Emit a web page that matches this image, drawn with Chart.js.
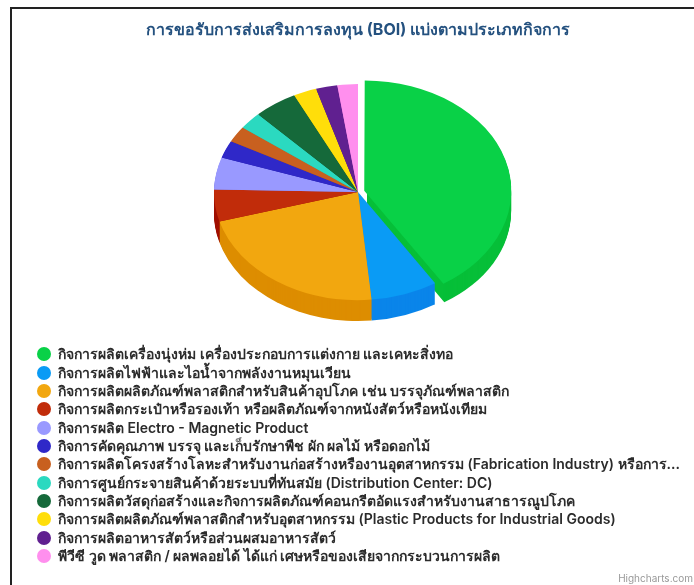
<!DOCTYPE html>
<html>
<head>
<meta charset="utf-8">
<script src="https://cdn.jsdelivr.net/npm/chart.js@4"></script>
<style>
  body { margin: 0; background: #fff; width: 694px; height: 585px; position: relative; overflow: hidden; font-family: Inter, "Noto Sans", sans-serif; }
  #frame { position: absolute; left: 10px; top: 7px; width: 684px; height: 578px; border-left: 2px solid #222; border-top: 2px solid #222; box-sizing: border-box; }
  #wrap { position: absolute; left: 22px; top: 0; width: 672px; height: 585px; }
  #legend { position: absolute; left: 37px; top: 345px; margin: 0; padding: 0; list-style: none; }
  #legend li { height: 18.36px; line-height: 18px; font-size: 14px; font-weight: 600; color: #2b2b2b; white-space: nowrap; display: flex; align-items: center; }
  #legend i { width: 14px; height: 14px; border-radius: 50%; margin-right: 7px; flex: none; }
  #credit { position: absolute; right: 1px; top: 572px; font-size: 10px; color: #999; }
</style>
</head>
<body>
<div id="frame"></div>
<div id="wrap"><canvas id="pie" width="672" height="585"></canvas></div>
<ul id="legend"></ul>
<div id="credit">Highcharts.com</div>
<script>
const TITLE = 'การขอรับการส่งเสริมการลงทุน (BOI) แบ่งตามประเภทกิจการ';
const categories = [
  'กิจการผลิตเครื่องนุ่งห่ม เครื่องประกอบการแต่งกาย และเคหะสิ่งทอ',
  'กิจการผลิตไฟฟ้าและไอน้ำจากพลังงานหมุนเวียน',
  'กิจการผลิตผลิตภัณฑ์พลาสติกสำหรับสินค้าอุปโภค เช่น บรรจุภัณฑ์พลาสติก',
  'กิจการผลิตกระเป๋าหรือรองเท้า หรือผลิตภัณฑ์จากหนังสัตว์หรือหนังเทียม',
  'กิจการผลิต Electro - Magnetic Product',
  'กิจการคัดคุณภาพ บรรจุ และเก็บรักษาพืช ผัก ผลไม้ หรือดอกไม้',
  'กิจการผลิตโครงสร้างโลหะสำหรับงานก่อสร้างหรืองานอุตสาหกรรม (Fabrication Industry) หรือการ...',
  'กิจการศูนย์กระจายสินค้าด้วยระบบที่ทันสมัย (Distribution Center: DC)',
  'กิจการผลิตวัสดุก่อสร้างและกิจการผลิตภัณฑ์คอนกรีตอัดแรงสำหรับงานสาธารณูปโภค',
  'กิจการผลิตผลิตภัณฑ์พลาสติกสำหรับอุตสาหกรรม (Plastic Products for Industrial Goods)',
  'กิจการผลิตอาหารสัตว์หรือส่วนผสมอาหารสัตว์',
  'พีวีซี วูด พลาสติก / ผลพลอยได้ ได้แก่ เศษหรือของเสียจากกระบวนการผลิต'
];
const values = [41.0, 7.5, 22.1, 4.8, 4.8, 2.6, 2.4, 2.6, 4.9, 2.6, 2.4, 2.3];
const colors = ['#09d147', '#0a9bf5', '#f2a70f', '#c12c0a', '#9999ff', '#2f28c8', '#c8601f', '#2bd9c0', '#15693a', '#ffde0a', '#602090', '#ff8fee'];
const wallColors = ['#06bf38', '#0a85ea', '#dd8d00', '#a01000', '#8080e0', '#2018a8', '#a84c10', '#20b8a0', '#0f5029', '#dcbc00', '#4c1878', '#e070d0'];
const offsets = [26, 0, 0, 0, 0, 0, 0, 0, 0, 0, 0, 0];

const TILT = 0.75;  // squash the pie into an ellipse
const DEPTH = 21;   // wall height in px

// same shift that ArcElement.draw applies for its offset option
function arcShift(arc) {
  const off = (arc.options.offset || 0) / 4;
  const fix = 1 - Math.sin(Math.min(Math.PI, arc.circumference || 0));
  return off * (1 + fix);
}

// fake 3d: squash the arcs and stack dark copies under them
const pie3d = {
  id: 'pie3d',
  beforeDatasetDraw(chart, args) {
    const ctx = chart.ctx;
    const arcs = args.meta.data;
    const cy = arcs[0].y;
    for (let d = DEPTH; d >= 1; d--) {
      arcs.forEach((arc, i) => {
        ctx.save();
        ctx.translate(0, cy + d);
        ctx.scale(1, TILT);
        ctx.translate(0, -cy);
        const mid = (arc.startAngle + arc.endAngle) / 2;
        const shift = arcShift(arc);
        const x = arc.x + Math.cos(mid) * shift;
        const y = arc.y + Math.sin(mid) * shift;
        ctx.beginPath();
        ctx.moveTo(x, y);
        ctx.arc(x, y, arc.outerRadius, arc.startAngle, arc.endAngle);
        ctx.closePath();
        ctx.fillStyle = wallColors[i];
        ctx.fill();
        ctx.restore();
      });
    }
    ctx.save();
    ctx.translate(0, cy);
    ctx.scale(1, TILT);
    ctx.translate(0, -cy);
    arcs.forEach(arc => arc.draw(ctx));
    ctx.restore();
    return false;
  }
};

new Chart(document.getElementById('pie'), {
  type: 'pie',
  data: {
    labels: categories,
    datasets: [{ data: values, backgroundColor: colors, offset: offsets, borderWidth: 0 }]
  },
  plugins: [pie3d],
  options: {
    responsive: false,
    animation: false,
    radius: 144,
    layout: { padding: { left: 0, right: 0, top: 0, bottom: 241 } },
    plugins: {
      legend: { display: false },
      tooltip: { enabled: false },
      title: {
        display: true,
        text: TITLE,
        color: '#24517f',
        font: { family: 'Inter, "Noto Sans", sans-serif', size: 16, weight: '700' },
        padding: { top: 21, bottom: 0 }
      }
    }
  }
});

// legend list built from the same arrays
const legend = document.getElementById('legend');
categories.forEach((name, i) => {
  const li = document.createElement('li');
  const dot = document.createElement('i');
  dot.style.background = colors[i];
  li.appendChild(dot);
  li.appendChild(document.createTextNode(name));
  legend.appendChild(li);
});
</script>
</body>
</html>
